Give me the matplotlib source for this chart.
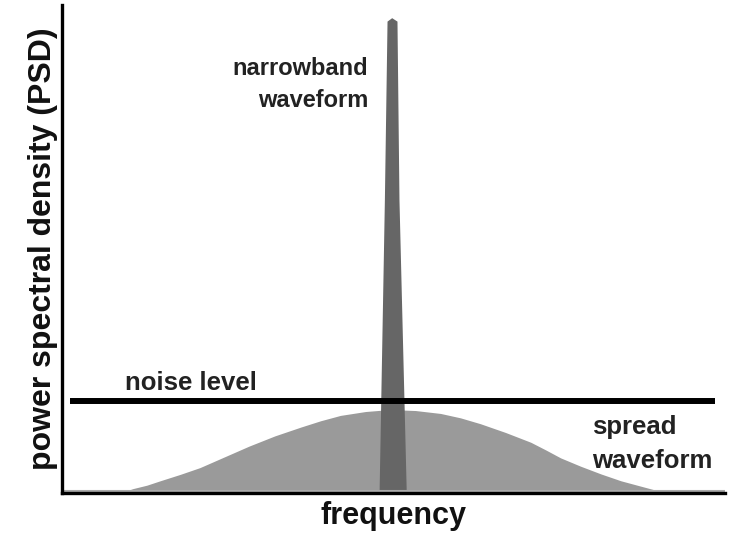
import matplotlib.pyplot as plt

# spread waveform (broad bump)
spread_x = [8.8, 10.7, 12.8, 14.8, 17.8, 20.8, 24.5, 28.2, 32.1, 36.0, 39.0, 42.0, 45.8,
            49.5, 53.3, 57.1, 60.1, 63.1, 66.9, 70.7, 73.0, 75.2, 78.2, 81.3, 84.3, 87.3, 89.5, 91.8]
spread_y = [0.0, 0.9, 1.6, 2.5, 3.8, 5.2, 7.4, 9.6, 11.7, 13.5, 14.8, 15.9, 16.7,
            17.1, 16.9, 16.3, 15.4, 14.2, 12.4, 10.4, 8.8, 7.2, 5.5, 3.9, 2.5, 1.4, 0.6, 0.0]

# narrowband spike outline
spike_x = [47.9, 48.7, 49.1, 49.8, 50.6, 50.9, 52.0]
spike_y = [0.0, 60.0, 96.6, 97.3, 96.6, 60.0, 0.0]

noise_level = 18.8
noise_span = [1.2, 98.5]

plt.rcParams['font.family'] = ['Liberation Sans', 'DejaVu Sans']
plt.rcParams['font.weight'] = 'bold'

fig = plt.figure(figsize=(7.29, 5.36), dpi=100)
ax = fig.add_axes([62/729, 43/536, 663/729, 488/536])

ax.fill_between(spread_x, spread_y, 0, color='#9a9a9a', lw=0, zorder=1)
ax.fill(spike_x, spike_y, color='#666666', lw=0, zorder=2)
ax.plot(noise_span, [noise_level, noise_level], color='black', lw=4.3,
        solid_capstyle='butt', zorder=3)
ax.axhline(0.45, color='#aaaaaa', lw=1.5, zorder=2)

ax.text(46.2, 85.6, 'narrowband', ha='right', va='baseline', fontsize=17, color='#222222')
ax.text(46.2, 79.0, 'waveform', ha='right', va='baseline', fontsize=17, color='#222222')
ax.text(9.5, 21.2, 'noise level', ha='left', va='baseline', fontsize=18.5, color='#222222')
ax.text(79.9, 12.0, 'spread', ha='left', va='baseline', fontsize=18.5, color='#222222')
ax.text(79.9, 5.2, 'waveform', ha='left', va='baseline', fontsize=18.5, color='#222222')

ax.set_xlim(0, 100)
ax.set_ylim(0, 100)
ax.set_xticks([])
ax.set_yticks([])
for s in ['top', 'right']:
    ax.spines[s].set_visible(False)
for s in ['left', 'bottom']:
    ax.spines[s].set_linewidth(2.4)
    ax.spines[s].set_zorder(5)

ax.set_xlabel('frequency', fontsize=22, fontweight='bold', labelpad=6, color='#111111')
ax.set_ylabel('power spectral density (PSD)', fontsize=23, fontweight='bold',
              labelpad=3, color='#111111')

fig.savefig('out.png', dpi=100)
